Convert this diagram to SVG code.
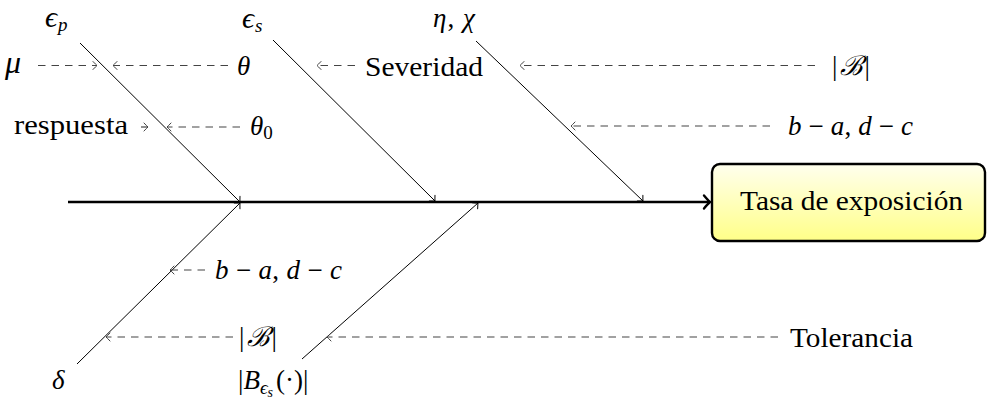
<svg xmlns="http://www.w3.org/2000/svg" width="987" height="399" viewBox="0 0 987 399">
<defs>
<style>
.t{font-family:"Liberation Serif","DejaVu Serif",serif;font-size:27px;fill:#000}
.m{font-family:"Liberation Serif","DejaVu Serif",serif;font-size:27px;font-style:italic;fill:#000}
.r{font-style:normal}
.e{font-size:30px}
.sub{font-size:19px}
.ss{font-size:14px}
.bone{stroke:#000;stroke-width:1;fill:none;marker-end:url(#tb)}
.dash{stroke:#444;stroke-width:1.2;fill:none;stroke-dasharray:7.5 6;marker-end:url(#tg)}
</style>
<linearGradient id="yg" x1="0" y1="0" x2="0" y2="1">
<stop offset="0" stop-color="#ffffee"/>
<stop offset="1" stop-color="#ffff88"/>
</linearGradient>
<marker id="tg" viewBox="-6 -6 8 12" refX="0" refY="0" markerWidth="8" markerHeight="12" markerUnits="userSpaceOnUse" orient="auto">
<path d="M-4,-4 Q-1.2,-1 0,0 Q-1.2,1 -4,4" fill="none" stroke="#444" stroke-width="1" stroke-linecap="round"/>
</marker>
<marker id="tb" viewBox="-6 -6 8 12" refX="0" refY="0" markerWidth="8" markerHeight="12" markerUnits="userSpaceOnUse" orient="auto">
<path d="M-4,-4 Q-1.2,-1 0,0 Q-1.2,1 -4,4" fill="none" stroke="#000" stroke-width="1" stroke-linecap="round"/>
</marker>
<marker id="ts" viewBox="-9 -9 11 18" refX="0" refY="0" markerWidth="11" markerHeight="18" markerUnits="userSpaceOnUse" orient="auto">
<path d="M-6,-6.5 Q-1.8,-1.5 0,0 Q-1.8,1.5 -6,6.5" fill="none" stroke="#000" stroke-width="2.4" stroke-linecap="round"/>
</marker>
</defs>

<g id="connectors">
<line x1="68" y1="202" x2="710" y2="202" stroke="#000" stroke-width="2.4" marker-end="url(#ts)"/>
<line class="bone" x1="80" y1="43" x2="240" y2="202"/>
<line class="bone" x1="273" y1="40" x2="435" y2="201"/>
<line class="bone" x1="476" y1="41" x2="643" y2="201"/>
<line class="bone" x1="77" y1="364" x2="240" y2="203"/>
<line class="bone" x1="302" y1="359" x2="478" y2="203"/>
<line class="dash" x1="38" y1="65.5" x2="97" y2="65.5"/>
<line class="dash" x1="228" y1="65.5" x2="113" y2="65.5"/>
<line class="dash" x1="355" y1="65.5" x2="317" y2="65.5"/>
<line class="dash" x1="815" y1="65.5" x2="520" y2="65.5"/>
<line class="dash" x1="141" y1="127" x2="148" y2="127"/>
<line class="dash" x1="240" y1="127" x2="167" y2="127"/>
<line class="dash" x1="770" y1="126" x2="571" y2="126"/>
<line class="dash" x1="205" y1="270" x2="170" y2="270"/>
<line class="dash" x1="233" y1="337" x2="106" y2="337"/>
<line class="dash" x1="778" y1="337" x2="327" y2="337"/>
</g>

<g id="effect">
<rect x="712" y="164" width="273" height="77" rx="8" fill="url(#yg)" stroke="#000" stroke-width="2.4"/>
<text class="t" x="740" y="210" textLength="223" lengthAdjust="spacingAndGlyphs">Tasa de exposición</text>
</g>

<g id="eps-p"><text class="m" x="45" y="27"><tspan class="e">ϵ</tspan><tspan class="sub" y="31" dx="1">p</tspan></text></g>
<g id="eps-s"><text class="m" x="242" y="28"><tspan class="e">ϵ</tspan><tspan class="sub" y="32" dx="1">s</tspan></text></g>
<g id="eta-chi"><text class="m" x="433" y="27" textLength="42" lengthAdjust="spacing">η<tspan class="r">,</tspan> χ</text></g>

<g id="mu"><text class="m" x="5" y="73" style="font-size:32px">μ</text></g>
<g id="theta"><text class="m" x="237" y="75">θ</text></g>
<g id="severidad"><text class="t" x="365" y="76" textLength="118" lengthAdjust="spacingAndGlyphs">Severidad</text></g>
<g id="absB-top"><text class="t" x="832" y="75" textLength="38" lengthAdjust="spacing">|<tspan class="m">ℬ</tspan>|</text></g>

<g id="respuesta"><text class="t" x="14" y="134" textLength="114" lengthAdjust="spacingAndGlyphs">respuesta</text></g>
<g id="theta0"><text class="m" x="250" y="135">θ<tspan class="sub r" y="139">0</tspan></text></g>
<g id="ba-dc-top"><text class="m" x="788" y="135" textLength="125" lengthAdjust="spacing">b<tspan class="r"> − </tspan>a<tspan class="r">, </tspan>d<tspan class="r"> − </tspan>c</text></g>

<g id="ba-dc-bottom"><text class="m" x="215" y="279" textLength="127" lengthAdjust="spacing">b<tspan class="r"> − </tspan>a<tspan class="r">, </tspan>d<tspan class="r"> − </tspan>c</text></g>
<g id="absB-bottom"><text class="t" x="239" y="346" textLength="38" lengthAdjust="spacing">|<tspan class="m">ℬ</tspan>|</text></g>
<g id="tolerancia"><text class="t" x="790" y="347" textLength="123" lengthAdjust="spacingAndGlyphs">Tolerancia</text></g>

<g id="delta"><text class="m" x="52" y="389">δ</text></g>
<g id="ball"><text class="t" x="238" y="389">|<tspan class="m">B</tspan><tspan class="m sub" y="394">ϵ</tspan><tspan class="m ss" y="397">s</tspan><tspan y="389" dx="3">(·)|</tspan></text></g>
</svg>
